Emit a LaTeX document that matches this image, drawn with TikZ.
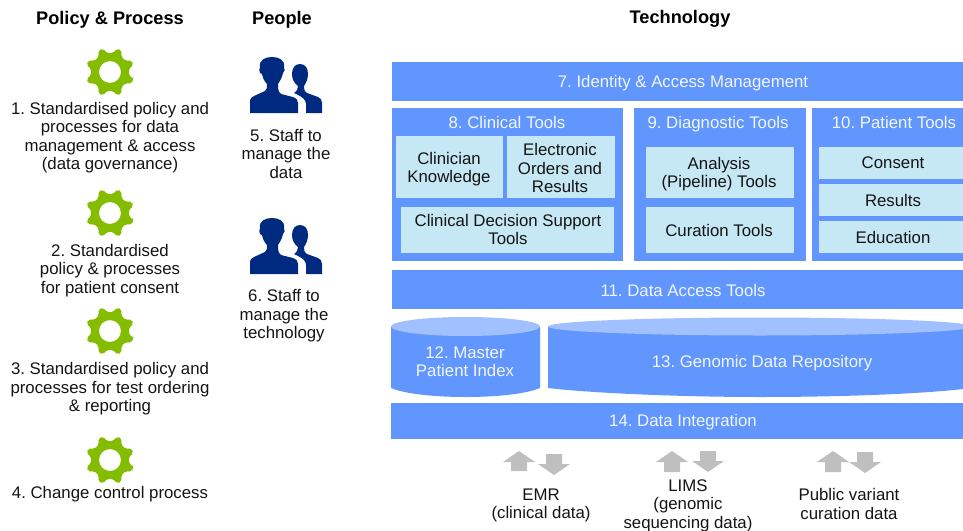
\documentclass[tikz,border=0pt]{standalone}
\usepackage{fontspec}
\setmainfont{Liberation Sans}
\usetikzlibrary{calc}
\definecolor{blu}{HTML}{6196FF}
\definecolor{blutop}{HTML}{A1C0FF}
\definecolor{cyn}{HTML}{C6E8F5}
\definecolor{grn}{HTML}{84BD00}
\definecolor{nvy}{HTML}{002A7F}
\definecolor{gry}{HTML}{BFBFBF}
\definecolor{wht}{HTML}{F2F6FF}
\tikzset{
  x=1pt,y=-1pt,
  txt/.style={inner sep=0pt,align=center,font=\fontsize{16.8}{18.4}\selectfont\frenchspacing,text=black!92},
  head/.style={inner sep=0pt,font=\fontsize{18.2}{20}\selectfont\bfseries,text=black},
  wtxt/.style={txt,text=wht},
  band/.style={fill=blu,draw=none},
  tile/.style={fill=cyn,draw=none}
}
\newcommand{\gearat}[2]{%
  \fill[grn,even odd rule,rounded corners=2pt]
    ($(#1,#2)+(16.5:24.5)$)
    \foreach \a in {0,45,...,315}{
      -- ($(#1,#2)+(\a+16.5:24.5)$) -- ($(#1,#2)+(\a+28.5:24.5)$)
      -- ($(#1,#2)+(\a+36:19)$) -- ($(#1,#2)+(\a+54:19)$)
    } -- cycle
    (#1,#2) circle[radius=11];}
\newcommand{\staffat}[1]{%
  \begin{scope}[shift={(0,#1)}]
  \fill[nvy] (250,113) -- (250,102) .. controls (250,98) and (252,97) .. (254,96)
    -- (265,91) .. controls (267,90) and (267,87) .. (267,84)
    .. controls (264,81) and (263,78) .. (262,74) -- (260,73) .. controls (259,71) and (259,69) .. (260,67)
    .. controls (259,60) and (265,57) .. (272,57) .. controls (279,57) and (285,60) .. (284,67)
    .. controls (285,69) and (285,72) .. (283,73) .. controls (282,78) and (280,81) .. (278,84)
    .. controls (278,88) and (278,92) .. (281,94) -- (293,97) .. controls (297,99) and (298,100) .. (298,103) -- (298,113) -- cycle;
  \fill[nvy] (306,113) -- (306,104) .. controls (306,100) and (303,97) .. (294,93)
    .. controls (297,91) and (298,89) .. (298,86) .. controls (294,83) and (292,79) .. (292,74)
    .. controls (292,68) and (295,64) .. (300,64) .. controls (305,64) and (308,68) .. (308,74)
    .. controls (308,79) and (306,83) .. (304,86) .. controls (304,89) and (304,91) .. (307,93)
    -- (318,97) .. controls (321,99) and (322,100) .. (322,103) -- (322,113) -- cycle;
  \end{scope}}
\newcommand{\uparr}[3]{% left, top, bottom
  \fill[gry] (#1,#2+11) -- (#1+16,#2) -- (#1+32,#2+11) -- (#1+24,#2+11) -- (#1+24,#3) -- (#1+8,#3) -- (#1+8,#2+11) -- cycle;}
\newcommand{\dnarr}[3]{%
  \fill[gry] (#1,#3-11) -- (#1+16,#3) -- (#1+32,#3-11) -- (#1+24,#3-11) -- (#1+24,#2) -- (#1+8,#2) -- (#1+8,#3-11) -- cycle;}
\begin{document}
\begin{tikzpicture}
\useasboundingbox (0,0) rectangle (963,530);
\clip (0,0) rectangle (963,530);
% headings
\node[head] (hpol) at (110,20) {Policy \& Process};
\node[head] (hpeo) at (282,19.5) {People};
\node[head] (htec) at (680,18.5) {Technology};
% gears
\gearat{110}{72}\gearat{110}{213}\gearat{110}{331}\gearat{110}{460}
\node[txt] (t1) at (110,137.5) {1. Standardised policy and\\processes for data\\management \& access\\(data governance)};
\node[txt] (t2) at (110,270.5) {2. Standardised\\policy \& processes\\for patient consent};
\node[txt] (t3) at (110,389) {3. Standardised policy and\\processes for test ordering\\\& reporting};
\node[txt] (t4) at (110,494) {4. Change control process};
% people
\staffat{0}\staffat{161}
\node[txt] (t5) at (286,154) {5. Staff to\\manage the\\data};
\node[txt] (t6) at (284,316) {6. Staff to\\manage the\\technology};
% bands
\fill[band] (392,62) rectangle (963,101);
\node[wtxt] (t7) at (683,83) {7. Identity \& Access Management};
\fill[band] (392,108) rectangle (623,261);
\fill[band] (634,108) rectangle (806,261);
\fill[band] (812,108) rectangle (963,261);
\node[wtxt] (t8) at (507,122) {8. Clinical Tools};
\node[wtxt] (t9) at (718,124) {9. Diagnostic Tools};
\node[wtxt] (t10) at (894,122) {10. Patient Tools};
\fill[tile] (396,136) rectangle (503,198);
\fill[tile] (507,136) rectangle (615,198);
\fill[tile] (401,207) rectangle (614,253);
\fill[tile] (646,147) rectangle (794,198);
\fill[tile] (646,207) rectangle (794,253);
\fill[tile] (819,147) rectangle (963,179);
\fill[tile] (819,184) rectangle (963,216);
\fill[tile] (819,221) rectangle (963,253);
\node[txt] (a1) at (449,169) {Clinician\\Knowledge};
\node[txt] (a2) at (560,168) {Electronic\\Orders and\\Results};
\node[txt] (a3) at (508,229.5) {Clinical Decision Support\\Tools};
\node[txt] (b1) at (719,174) {Analysis\\(Pipeline) Tools};
\node[txt] (b2) at (719,230) {Curation Tools};
\node[txt] (c1) at (893,163) {Consent};
\node[txt] (c2) at (893,200) {Results};
\node[txt] (c3) at (893,237) {Education};
\fill[band] (392,270) rectangle (963,309);
\node[wtxt] (t11) at (683,290) {11. Data Access Tools};
% cylinders
\fill[blu] (391,327) -- (391,388) .. controls (405,394) and (435,397) .. (465.5,397)
  .. controls (496,397) and (526,394) .. (540,388) -- (540,327) -- cycle;
\fill[blutop] (465.5,326.5) ellipse[x radius=74.5,y radius=9.5];
\fill[blu] (548,327) -- (548,388) .. controls (590,393) and (680,397) .. (760,397)
  .. controls (840,397) and (925,394) .. (972,388) -- (972,327) -- cycle;
\fill[blutop] (760,326.5) ellipse[x radius=212,y radius=9];
\node[wtxt] (t12) at (465,362) {12. Master\\Patient Index};
\node[wtxt] (t13) at (762,363) {13. Genomic Data Repository};
\fill[band] (391,403) rectangle (963,439);
\node[wtxt] (t14) at (683,422) {14. Data Integration};
% arrows
\uparr{503}{451}{471}\dnarr{538}{454}{475}
\uparr{656}{451}{472}\dnarr{692}{451}{472}
\uparr{817}{451}{472}\dnarr{849}{452}{473}
\node[txt] (d1) at (541,505.5) {EMR\\(clinical data)};
\node[txt] (d2) at (688,505.5) {LIMS\\(genomic\\sequencing data)};
\node[txt] (d3) at (849,504) {Public variant\\curation data};
\end{tikzpicture}
\end{document}
